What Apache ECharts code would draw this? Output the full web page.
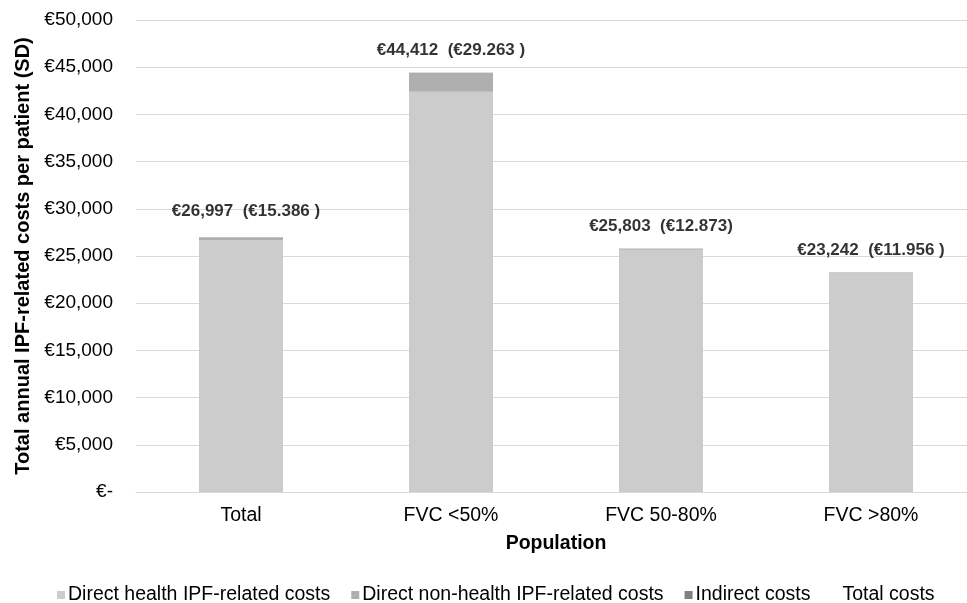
<!DOCTYPE html>
<html>
<head>
<meta charset="utf-8">
<script src="https://cdn.jsdelivr.net/npm/echarts@6/dist/echarts.min.js"></script>
<style>
  html, body { margin: 0; padding: 0; background: #ffffff; overflow: hidden; }
  #chart { width: 980px; height: 603px; }
</style>
</head>
<body>
<div id="chart"></div>
<script>
// Population groups
const categories = ['Total', 'FVC <50%', 'FVC 50-80%', 'FVC >80%'];

// Cost components per patient (EUR)
const directHealth = [26680, 42400, 25650, 23140];
const directNonHealth = [300, 1990, 140, 90];
const indirectCosts = [17, 22, 13, 12];

// Total annual costs and their standard deviations
const totalCosts = [26997, 44412, 25803, 23242];
const totalLabels = [
  '€26,997  (€15.386 )',
  '€44,412  (€29.263 )',
  '€25,803  (€12.873)',
  '€23,242  (€11.956 )'
];

const FONT = 'Liberation Sans, Arial, sans-serif';

const chart = echarts.init(document.getElementById('chart'), null, { renderer: 'canvas' });

const fmtEuro = v => v === 0 ? '€-' : '€' + v.toLocaleString('en-US');

// The first total label sits a little higher and to the right
const totalData = totalCosts.map((v, i) => i === 0
  ? { value: v, label: { offset: [5, -4] } }
  : v);

chart.setOption({
  animation: false,
  textStyle: { fontFamily: FONT },
  grid: { left: 136, top: 20, width: 840, height: 472, containLabel: false },
  legend: {
    left: 52,
    top: 580,
    itemWidth: 8,
    itemHeight: 8,
    itemGap: 21,
    textStyle: { fontFamily: FONT, fontSize: 19.5, color: '#000000', padding: [0, 0, 0, -2] },
    data: [
      { name: 'Direct health IPF-related costs', icon: 'rect' },
      { name: 'Direct non-health IPF-related costs', icon: 'rect' },
      { name: 'Indirect costs', icon: 'rect' },
      { name: 'Total costs', icon: 'rect', itemStyle: { color: 'rgba(0,0,0,0)' } }
    ]
  },
  xAxis: {
    type: 'category',
    data: categories,
    name: 'Population',
    nameLocation: 'middle',
    nameGap: 42,
    nameTextStyle: { fontFamily: FONT, fontSize: 19.5, fontWeight: 'bold', color: '#000000' },
    axisLine: { lineStyle: { color: '#d9d9d9', width: 1 } },
    axisTick: { show: false },
    axisLabel: { fontFamily: FONT, fontSize: 19.5, color: '#000000', margin: 14 }
  },
  yAxis: {
    type: 'value',
    min: 0,
    max: 50000,
    interval: 5000,
    name: 'Total annual IPF-related costs per patient (SD)',
    nameLocation: 'middle',
    nameGap: 103,
    nameTextStyle: { fontFamily: FONT, fontSize: 20, fontWeight: 'bold', color: '#000000' },
    axisLine: { show: false },
    axisTick: { show: false },
    splitLine: { lineStyle: { color: '#d9d9d9', width: 1 } },
    axisLabel: { fontFamily: FONT, fontSize: 19, color: '#000000', margin: 23, formatter: fmtEuro }
  },
  series: [
    {
      name: 'Direct health IPF-related costs',
      type: 'bar',
      stack: 'cost',
      barWidth: '40%',
      itemStyle: { color: '#cccccc' },
      data: directHealth
    },
    {
      name: 'Direct non-health IPF-related costs',
      type: 'bar',
      stack: 'cost',
      itemStyle: { color: '#afafaf' },
      data: directNonHealth
    },
    {
      name: 'Indirect costs',
      type: 'bar',
      stack: 'cost',
      itemStyle: { color: '#808080' },
      data: indirectCosts
    },
    {
      name: 'Total costs',
      type: 'scatter',
      symbolSize: 1,
      itemStyle: { color: 'rgba(0,0,0,0)' },
      label: {
        show: true,
        position: 'top',
        distance: 13,
        fontFamily: FONT,
        fontSize: 17,
        fontWeight: 'bold',
        color: '#000000',
        formatter: p => totalLabels[p.dataIndex]
      },
      data: totalData
    }
  ]
});
</script>
</body>
</html>
